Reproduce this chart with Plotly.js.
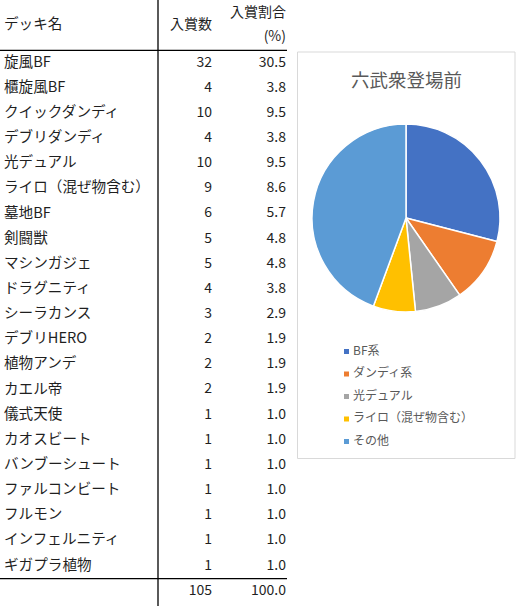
<!DOCTYPE html>
<html>
<head>
<meta charset="utf-8">
<script src="https://cdn.plot.ly/plotly-3.0.1.min.js"></script>
<style>
html, body { margin: 0; padding: 0; background: #fff; }
#sheet { width: 523px; height: 606px; }
</style>
</head>
<body>
<div id="sheet"></div>
<script>
// table data
var deckNames = ["旋風BF", "櫃旋風BF", "クイックダンディ", "デブリダンディ", "光デュアル",
	"ライロ（混ぜ物含む）", "墓地BF", "剣闘獣", "マシンガジェ", "ドラグニティ", "シーラカンス",
	"デブリHERO", "植物アンデ", "カエル帝", "儀式天使", "カオスビート", "バンブーシュート",
	"ファルコンビート", "フルモン", "インフェルニティ", "ギガプラ植物"];
var entryCounts = [32, 4, 10, 4, 10, 9, 6, 5, 5, 4, 3, 2, 2, 2, 1, 1, 1, 1, 1, 1, 1];
var entryShares = [30.5, 3.8, 9.5, 3.8, 9.5, 8.6, 5.7, 4.8, 4.8, 3.8, 2.9, 1.9, 1.9, 1.9, 1.0, 1.0, 1.0, 1.0, 1.0, 1.0, 1.0];
var totalCount = 105;
var totalShare = 100.0;
var headName = "デッキ名";
var headCount = "入賞数";
var headShare = ["入賞割合", "(%)"];

// pie data
var chartTitle = "六武衆登場前";
var pieLabels = ["BF系", "ダンディ系", "光デュアル", "ライロ（混ぜ物含む）", "その他"];
var pieValues = [36, 14, 10, 9, 55];
var pieColors = ["#4472C4", "#ED7D31", "#A5A5A5", "#FFC000", "#5B9BD5"];

// sheet geometry (pixels)
var W = 523, H = 606;
var rowTop = 63, rowStep = 25.15;
var xName = 4, xCount = 212, xShare = 286, xDivider = 158, tableRight = 287;
var legX = 346.5, legTextX = 353, legY = 351.5, legStep = 22.5;

var font = "Noto Sans CJK JP, Noto Sans, sans-serif";
var ink = "#1f1f1f";

function rowY(i) { return rowTop + i * rowStep; }

var ys = deckNames.map(function(d, i){ return rowY(i); });
var yTotal = rowY(deckNames.length);

var names = {
	x: deckNames.map(function(){ return xName; }).concat([xName]),
	y: ys.concat([25]),
	text: deckNames.concat([headName]),
	mode: "text", textposition: "middle right",
	textfont: {family: font, size: 14.6, color: ink},
	hoverinfo: "skip", showlegend: false
};

var counts = {
	x: ys.map(function(){ return xCount; }).concat([xCount, xCount]),
	y: ys.concat([yTotal, 25]),
	text: entryCounts.map(String).concat([String(totalCount), headCount]),
	mode: "text", textposition: "middle left",
	textfont: {family: font, size: 14, color: ink},
	hoverinfo: "skip", showlegend: false
};

var shares = {
	x: ys.map(function(){ return xShare; }).concat([xShare, xShare, xShare]),
	y: ys.concat([yTotal, 13, 37]),
	text: entryShares.map(function(v){ return v.toFixed(1); }).concat([totalShare.toFixed(1), headShare[0], headShare[1]]),
	mode: "text", textposition: "middle left",
	textfont: {family: font, size: 14, color: ink},
	hoverinfo: "skip", showlegend: false
};

// legend drawn as scatter so the spacing matches
var legYs = pieLabels.map(function(l, i){ return legY + i * legStep; });
var legendKeys = {
	x: pieLabels.map(function(){ return legX; }),
	y: legYs,
	mode: "markers",
	marker: {symbol: "square", size: 5, color: pieColors},
	hoverinfo: "skip", showlegend: false
};
var legendText = {
	x: pieLabels.map(function(){ return legTextX; }),
	y: legYs,
	text: pieLabels,
	mode: "text", textposition: "middle right",
	textfont: {family: font, size: 12, color: "#595959"},
	hoverinfo: "skip", showlegend: false
};

var cx = 406, cy = 218, r = 94;
var pie = {
	type: "pie",
	labels: pieLabels,
	values: pieValues,
	sort: false,
	direction: "clockwise",
	rotation: 0,
	textinfo: "none",
	marker: {colors: pieColors, line: {color: "#ffffff", width: 1.5}},
	domain: {x: [(cx - r) / W, (cx + r) / W], y: [1 - (cy + r) / H, 1 - (cy - r) / H]},
	showlegend: false,
	hoverinfo: "label+value"
};

var line = {color: "#000000", width: 1.3};
var layout = {
	width: W, height: H,
	margin: {l: 0, r: 0, t: 0, b: 0},
	paper_bgcolor: "#ffffff", plot_bgcolor: "#ffffff",
	showlegend: false,
	xaxis: {range: [0, W], visible: false, fixedrange: true},
	yaxis: {range: [H, 0], visible: false, fixedrange: true},
	shapes: [
		{type: "line", xref: "x", yref: "y", x0: xDivider, x1: xDivider, y0: 0, y1: H, line: line},
		{type: "line", xref: "x", yref: "y", x0: 0, x1: tableRight, y0: rowY(-0.5), y1: rowY(-0.5), line: line},
		{type: "line", xref: "x", yref: "y", x0: 0, x1: tableRight, y0: rowY(deckNames.length - 0.5), y1: rowY(deckNames.length - 0.5), line: line},
		{type: "rect", xref: "x", yref: "y", x0: 297.5, x1: 515, y0: 52, y1: 458.5, line: {color: "#d9d9d9", width: 1}}
	],
	annotations: [{
		xref: "x", yref: "y", x: cx, y: 79, text: chartTitle, showarrow: false,
		font: {family: font, size: 18.5, color: "#595959"}
	}]
};

Plotly.newPlot("sheet", [names, counts, shares, legendKeys, legendText, pie], layout, {staticPlot: true, displayModeBar: false});
</script>
</body>
</html>
